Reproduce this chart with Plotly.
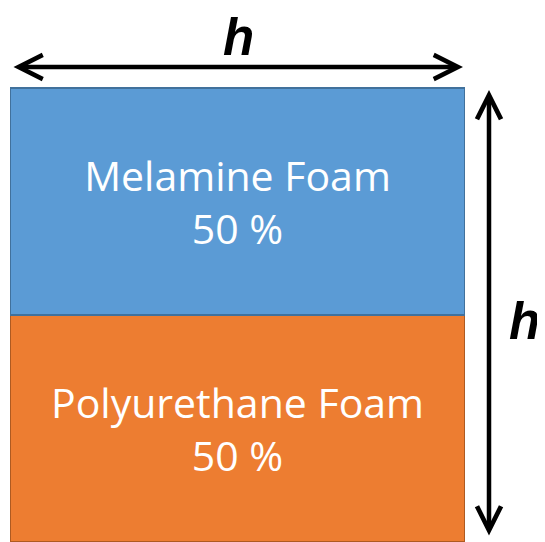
import plotly.graph_objects as go

materials = ["Polyurethane Foam", "Melamine Foam"]
shares = [50, 50]
fill_colors = ["#ED7D31", "#5B9BD5"]
edge_colors = ["#AE5A21", "#41719C"]
side_label = "h"

# the page body adds an 8px margin, so the figure is drawn 8px in from the corner
OFF = 8
W, H = 545 - OFF, 542 - OFF


def px(xp):
    return (xp - OFF) / W


def py(yp):
    return 1 - (yp - OFF) / H


fig = go.Figure()
for name, val, fc, ec in zip(materials, shares, fill_colors, edge_colors):
    fig.add_trace(go.Bar(
        x=["sample"], y=[val], name=name,
        marker=dict(color=fc, line=dict(color=ec, width=2)),
        text=[f"{name}<br>{val} %"], textposition="inside",
        insidetextanchor="middle",
        textfont=dict(color="white", size=41, family="Open Sans"),
        hoverinfo="skip",
    ))

# bars fill 88px..542px of the window height
top_px = 88 - OFF
y_max = sum(shares) * H / (H - top_px)

fig.update_layout(
    width=W, height=H,
    margin=dict(l=0, r=0, t=0, b=0),
    barmode="stack", bargap=0,
    showlegend=False,
    plot_bgcolor="white", paper_bgcolor="white",
    xaxis=dict(domain=[px(10), px(465)], visible=False),
    yaxis=dict(range=[0, y_max], visible=False),
)

arrow = dict(text="", showarrow=True, arrowside="end+start", arrowhead=5,
             arrowwidth=4.5, arrowsize=1.05, arrowcolor="black",
             xref="paper", yref="paper", standoff=0, startstandoff=0)
# horizontal arrow above
fig.add_annotation(x=px(463), y=py(67), ax=12 - 463, ay=0, **arrow)
# vertical arrow at right
fig.add_annotation(x=px(489), y=py(90), ax=0, ay=537 - 90, **arrow)

hfont = dict(family="Liberation Sans", size=51, color="black")
for hx, hy in [(238, 37), (524, 321)]:
    fig.add_annotation(text=f"<b><i>{side_label}</i></b>", x=px(hx), y=py(hy),
                       xref="paper", yref="paper", xanchor="center", yanchor="middle",
                       showarrow=False, font=hfont)

fig.write_html("out.html")
